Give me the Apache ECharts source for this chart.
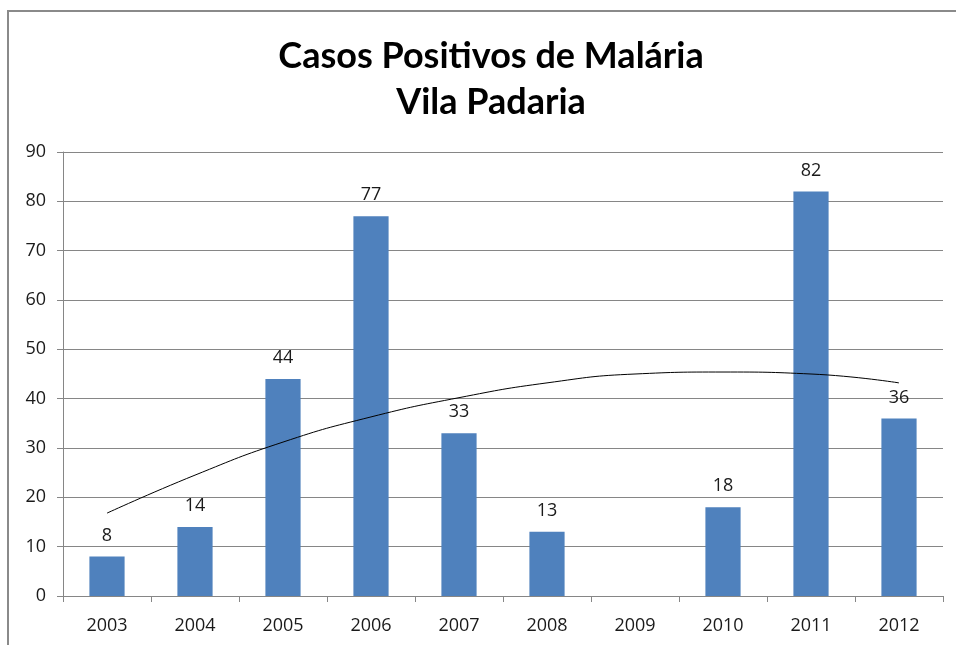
<!DOCTYPE html>
<html><head><meta charset="utf-8">
<script src="https://cdn.jsdelivr.net/npm/echarts@6/dist/echarts.min.js"></script>
<style>html,body{margin:0;padding:0;background:#fff}#c{width:956px;height:645px}</style>
</head><body><div id="c"></div>
<script>
const categories = ['2003','2004','2005','2006','2007','2008','2009','2010','2011','2012'];
const casos = [8, 14, 44, 77, 33, 13, null, 18, 82, 36];
const tendencia = [16.8, 24.5, 31.2, 36.3, 40.2, 43.2, 45.0, 45.4, 45.0, 43.2];
const yTicks = {min: 0, max: 90, interval: 10};

const chart = echarts.init(document.getElementById('c'));
chart.setOption({
  animation: false,
  graphic: [{type:'rect', shape:{x:8, y:11, width:1000, height:700}, style:{fill:'none', stroke:'#8a8a8a', lineWidth:2}, silent:true}],
  title: {
    text: 'Casos Positivos de Malária\nVila Padaria',
    left: 486, top: 28, textAlign: 'center',
    textStyle: {fontFamily: 'Lato', fontWeight: 'bold', fontSize: 36, lineHeight: 46, color: '#000'}
  },
  grid: {left: 63, right: 13, top: 152, bottom: 49},
  xAxis: {
    type: 'category', data: categories, boundaryGap: true,
    axisLine: {lineStyle: {color: '#868686', width: 1}},
    axisTick: {show: true, length: 6, lineStyle: {color: '#868686'}},
    axisLabel: {fontFamily: 'Open Sans', fontSize: 18, color: '#1a1a1a', margin: 21}
  },
  yAxis: {
    type: 'value', min: yTicks.min, max: yTicks.max, interval: yTicks.interval,
    axisLine: {show: true, lineStyle: {color: '#868686', width: 1}},
    axisTick: {show: true, length: 6, lineStyle: {color: '#868686'}},
    splitLine: {lineStyle: {color: '#868686', width: 1}},
    axisLabel: {fontFamily: 'Open Sans', fontSize: 18, color: '#1a1a1a', margin: 17}
  },
  series: [
    {type: 'bar', data: casos, barWidth: '40%', itemStyle: {color: '#4F81BD'},
     label: {show: true, position: 'top', distance: 12, fontFamily: 'Open Sans', fontSize: 18, color: '#1a1a1a'}},
    {type: 'line', data: tendencia, smooth: true, symbol: 'none', z: 5,
     lineStyle: {color: '#000', width: 1}}
  ]
});
</script></body></html>
